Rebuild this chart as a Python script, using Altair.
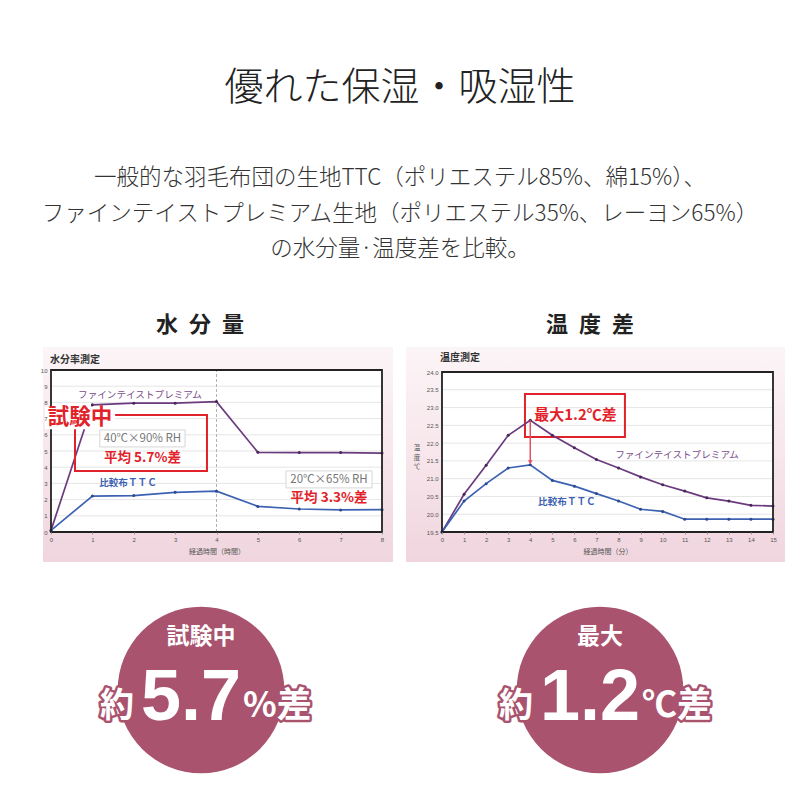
import altair as alt
import pandas as pd

# ---------------- data ----------------
title_text = "優れた保湿・吸湿性"
subtitle_lines = [
    "一般的な羽毛布団の生地TTC（ポリエステル85%、綿15%）、",
    "ファインテイストプレミアム生地（ポリエステル35%、レーヨン65%）",
    "の水分量·温度差を比較。",
]
section_titles = ["水\u2002分\u2002量", "温\u2002度\u2002差"]
panel_titles = ["水分率測定", "温度測定"]
series_names = ["ファインテイストプレミアム", "比較布ＴＴＣ"]

hours = [0, 1, 2, 3, 4, 5, 6, 7, 8]
moist_premium = [0.1, 7.85, 7.95, 7.95, 8.05, 4.92, 4.9, 4.9, 4.87]
moist_ttc = [0.1, 2.22, 2.25, 2.45, 2.52, 1.58, 1.42, 1.36, 1.38]
moist_ticks = [0, 1, 2, 3, 4, 5, 6, 7, 8, 9, 10]

minutes = [0, 1, 2, 3, 4, 5, 6, 7, 8, 9, 10, 11, 12, 13, 14, 15]
temp_premium = [19.5, 20.56, 21.38, 22.22, 22.64, 22.22, 21.87, 21.54,
                21.30, 21.05, 20.83, 20.65, 20.46, 20.37, 20.25, 20.23]
temp_ttc = [19.5, 20.37, 20.86, 21.30, 21.39, 20.95, 20.79, 20.58,
            20.37, 20.14, 20.08, 19.86, 19.86, 19.86, 19.86, 19.86]
temp_ticks = [19.5, 20.0, 20.5, 21.0, 21.5, 22.0, 22.5, 23.0, 23.5, 24.0]

moist_conditions = ["40℃×90% RH", "20℃×65% RH"]
moist_diffs = ["平均 5.7%差", "平均 3.3%差"]
moist_callout = "試験中"
temp_callout = "最大1.2℃差"
temp_ytitle = "温\n度\n℃"
x_titles = ["経過時間（時間）", "経過時間（分）"]

circle_heads = ["試験中", "最大"]
circle_prefix = ["約", "約"]
circle_numbers = ["5.7", "1.2"]
circle_units = ["%差", "℃差"]

# ---------------- styles ----------------
JP = "Noto Sans CJK JP"
LAT = "Liberation Sans"
PURPLE = "#6a3b7e"
BLUE = "#3d62b3"
RED = "#e2222a"
MAUVE = "#a9536f"
GRID = "#dedede"


def one():
    return pd.DataFrame({"k": [0]})


def deco_text(text, x, y, **kw):
    return alt.Chart(one()).mark_text(**kw).encode(
        x=alt.value(x), y=alt.value(y), text=alt.value(text))


def deco_rect(x0, x1, y0, y1, **kw):
    return alt.Chart(one()).mark_rect(**kw).encode(
        x=alt.value(x0), x2=alt.value(x1), y=alt.value(y0), y2=alt.value(y1))


def x_axis(values, title):
    return alt.Axis(orient="bottom", offset=-260, values=values, grid=False,
                    domain=False, tickSize=2, tickColor="#999", zindex=2,
                    labelFont=LAT, labelFontSize=6, labelColor="#555",
                    labelPadding=2, labelFlush=False, labelOverlap=False,
                    title=title, titleFont=JP, titleFontSize=7,
                    titleFontWeight="normal", titleColor="#555", titlePadding=5)


def y_axis(values, offset, fmt):
    return alt.Axis(orient="left", offset=offset, values=values, grid=False,
                    domain=False, ticks=False, labelFont=LAT, labelFontSize=6,
                    labelColor="#555", labelPadding=4, labelFlush=False, zindex=2,
                    labelOverlap=False, format=fmt, title="")


class Frame:
    """Scales and axes shared by every layer of one chart panel."""

    def __init__(self, xs, ys, ax, ay):
        self.xs, self.ys, self.ax, self.ay = xs, ys, ax, ay

    def X(self, f):
        return alt.X(f, scale=self.xs, axis=self.ax)

    def Y(self, f):
        return alt.Y(f, scale=self.ys, axis=self.ay)

    def text(self, text, x, y, **kw):
        df = pd.DataFrame({"x": [x], "y": [y], "t": [text]})
        return alt.Chart(df).mark_text(**kw).encode(
            x=self.X("x:Q"), y=self.Y("y:Q"), text="t:N")

    def box(self, x0, x1, y0, y1, **kw):
        df = pd.DataFrame({"x0": [x0], "x1": [x1], "y0": [y0], "y1": [y1]})
        return alt.Chart(df).mark_rect(**kw).encode(
            x=self.X("x0:Q"), x2="x1:Q", y=self.Y("y0:Q"), y2="y1:Q")

    def hgrid(self, ticks, x0, x1):
        df = pd.DataFrame({"y": ticks, "x0": [x0] * len(ticks), "x1": [x1] * len(ticks)})
        return alt.Chart(df).mark_rule(color=GRID, strokeWidth=0.8).encode(
            x=self.X("x0:Q"), x2="x1:Q", y=self.Y("y:Q"))

    def vrule(self, x, y0, y1, **kw):
        df = pd.DataFrame({"x": [x], "y0": [y0], "y1": [y1]})
        return alt.Chart(df).mark_rule(**kw).encode(
            x=self.X("x:Q"), y=self.Y("y0:Q"), y2="y1:Q")

    def marker(self, x, y, **kw):
        df = pd.DataFrame({"x": [x], "y": [y]})
        return alt.Chart(df).mark_point(**kw).encode(x=self.X("x:Q"), y=self.Y("y:Q"))

    def series(self, xs_vals, a, b):
        df = pd.DataFrame({
            "t": xs_vals + xs_vals,
            "value": a + b,
            "series": [series_names[0]] * len(xs_vals) + [series_names[1]] * len(xs_vals),
        })
        line = alt.Chart(df).mark_line(strokeWidth=1.7).encode(
            x=self.X("t:Q"), y=self.Y("value:Q"),
            color=alt.Color("series:N", scale=color_scale, legend=None),
            detail="series:N")
        pts = alt.Chart(df).mark_point(filled=True, size=9, opacity=1).encode(
            x=self.X("t:Q"), y=self.Y("value:Q"),
            fill=alt.Fill("series:N", scale=fill_scale, legend=None),
            stroke=alt.value("transparent"))
        return line, pts


color_scale = alt.Scale(domain=series_names, range=[PURPLE, BLUE])
fill_scale = alt.Scale(domain=series_names, range=["#4a2658", "#2b4a8e"])

# ---------------- chart 1: moisture ----------------
F1 = Frame(alt.Scale(domain=[0, 8], range=[43, 374], nice=False, zero=False),
           alt.Scale(domain=[0, 10], range=[524, 362], nice=False, zero=False),
           x_axis(hours, x_titles[0]), y_axis(moist_ticks, -43, "d"))
line1, pts1 = F1.series(hours, moist_premium, moist_ttc)

chart1 = alt.layer(
    F1.box(0, 8, 0, 10, fill="white"),
    F1.hgrid(moist_ticks[1:-1], 0, 8),
    F1.vrule(4, 0, 10, color="#aaaaaa", strokeDash=[3, 2], strokeWidth=0.9),
    line1, pts1,
    F1.text(series_names[0], 2.15, 8.46, font=JP, fontSize=9.6, color="#7a4b8c"),
    F1.text(series_names[1], 1.86, 3.02, font=JP, fontSize=9.6, fontWeight="bold", color=BLUE),
    F1.box(0, 8, 0, 10, fillOpacity=0, stroke="#222222", strokeWidth=1.8),
    F1.box(0.58, 3.77, 3.77, 7.22, fillOpacity=0, stroke=RED, strokeWidth=2),
    F1.box(-0.15, 1.55, 6.35, 7.75, fill="white"),
    F1.text(moist_callout, 0.70, 7.04, font=JP, fontSize=21.5, fontWeight="bold", color=RED),
    F1.box(1.18, 3.24, 5.25, 6.30, fill="white", fillOpacity=0.85, stroke="#d6d6d6", strokeWidth=1),
    F1.text(moist_conditions[0], 2.21, 5.77, font=JP, fontSize=11.5, color="#777777"),
    F1.text(moist_diffs[0], 2.21, 4.54, font=JP, fontSize=13.5, fontWeight="bold", color=RED),
    F1.box(5.68, 7.76, 2.72, 3.77, fill="white", fillOpacity=0.85, stroke="#d6d6d6", strokeWidth=1),
    F1.text(moist_conditions[1], 6.72, 3.24, font=JP, fontSize=11.5, color="#777777"),
    F1.text(moist_diffs[1], 6.72, 2.07, font=JP, fontSize=13.5, fontWeight="bold", color=RED),
)

# ---------------- chart 2: temperature ----------------
F2 = Frame(alt.Scale(domain=[0, 15], range=[434, 765], nice=False, zero=False),
           alt.Scale(domain=[19.5, 24], range=[524, 364], nice=False, zero=False),
           x_axis(minutes, x_titles[1]), y_axis(temp_ticks, -434, ".1f"))
line2, pts2 = F2.series(minutes, temp_premium, temp_ttc)

chart2 = alt.layer(
    F2.box(0, 15, 19.5, 24, fill="white"),
    F2.hgrid(temp_ticks[1:-1], 0, 15),
    F2.box(3.76, 8.29, 22.17, 23.38, fillOpacity=0, stroke=RED, strokeWidth=2),
    line2, pts2,
    F2.vrule(4, temp_premium[4], temp_ttc[4] + 0.07, color="#e0505f", strokeWidth=1.5),
    F2.marker(4, temp_ttc[4] + 0.07, shape="triangle-down", filled=True, size=22,
              color="#e0505f", opacity=1),
    F2.text(temp_callout, 6.05, 22.79, font=JP, fontSize=15, fontWeight="bold", color=RED),
    F2.text(series_names[0], 10.65, 21.67, font=JP, fontSize=9.6, color="#7a4b8c"),
    F2.text(series_names[1], 5.66, 20.34, font=JP, fontSize=9.6, fontWeight="bold", color=BLUE),
    F2.text(temp_ytitle, -1.13, 21.85, font=JP, fontSize=6.5, color="#555555",
            lineBreak="\n", lineHeight=9.5),
    F2.box(0, 15, 19.5, 24, fillOpacity=0, stroke="#222222", strokeWidth=1.8),
)

# ---------------- circles ----------------
circ_df = pd.DataFrame({"head": circle_heads, "pre": circle_prefix,
                        "num": circle_numbers, "unit": circle_units})
xc = alt.Scale(type="point", domain=circle_heads, range=[193, 592], padding=0)
cbase = alt.Chart(circ_df).encode(x=alt.X("head:N", scale=xc, axis=None))


def big_text(field, dx, y, size, font, align, outline):
    kw = dict(font=font, fontSize=size, fontWeight="bold", align=align, dx=dx,
              baseline="alphabetic")
    if outline:
        kw.update(fill=MAUVE, stroke=MAUVE, strokeWidth=5, strokeJoin="round")
    else:
        kw.update(fill="white")
    return cbase.mark_text(**kw).encode(y=alt.value(y), text=f"{field}:N")


circles = alt.layer(
    cbase.mark_circle(size=27760, color=MAUVE, opacity=1).encode(y=alt.value(682)),
    cbase.mark_text(font=JP, fontSize=23, fontWeight="bold", color="white",
                    baseline="middle").encode(y=alt.value(629), text="head:N"),
    big_text("pre", -84, 709, 34, JP, "center", True),
    big_text("num", -10, 712, 72, LAT, "center", True),
    big_text("unit", 42, 709, 35, JP, "left", True),
    big_text("pre", -84, 709, 34, JP, "center", False),
    big_text("num", -10, 712, 72, LAT, "center", False),
    big_text("unit", 42, 709, 35, JP, "left", False),
)

# ---------------- decorations ----------------
panel_grad = alt.LinearGradient(
    gradient="linear", x1=0, y1=0, x2=0, y2=1,
    stops=[alt.GradientStop(color="#fcf5f7", offset=0),
           alt.GradientStop(color="#f7e6eb", offset=0.5),
           alt.GradientStop(color="#f0d5de", offset=1)])

decor = alt.layer(
    deco_rect(35, 385, 339, 554, fill=panel_grad),
    deco_rect(398, 777, 339, 554, fill=panel_grad),
    deco_text(title_text, 392, 80, font=JP, fontSize=39, fontWeight=300,
              color="#222222", baseline="middle"),
    deco_text(subtitle_lines, 392, 170, font=JP, fontSize=22.5, fontWeight=300,
              color="#333333", baseline="middle", lineHeight=35.5),
    deco_text(section_titles[0], 192, 317, font=JP, fontSize=22, fontWeight="bold",
              color="#222222", baseline="middle"),
    deco_text(section_titles[1], 582, 317, font=JP, fontSize=22, fontWeight="bold",
              color="#222222", baseline="middle"),
    deco_text(panel_titles[0], 42, 352, font=JP, fontSize=10, fontWeight="bold",
              color="#333333", align="left", baseline="middle"),
    deco_text(panel_titles[1], 432, 350, font=JP, fontSize=10, fontWeight="bold",
              color="#333333", align="left", baseline="middle"),
)

chart = alt.layer(decor, chart1, chart2, circles).resolve_scale(
    x="independent", y="independent"
).properties(
    width=784, height=784,
    autosize=alt.AutoSizeParams(type="none"),
    padding=0,
    background="white",
).configure_view(stroke=None)

chart.save("out.html", embed_options={"renderer": "svg", "actions": False})
